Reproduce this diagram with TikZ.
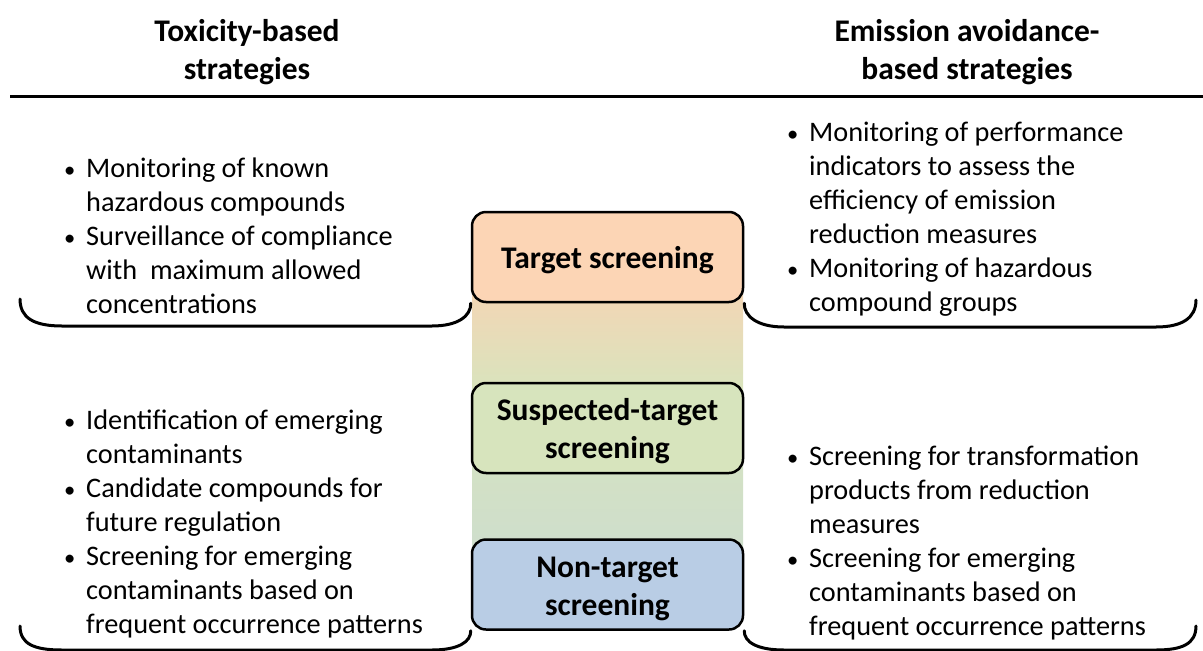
\documentclass[tikz,border=0pt]{standalone}
\usepackage{fontspec}
\setmainfont{Carlito}
\newcommand\bulitem{\makebox[24pt][l]{\hspace*{2pt}\scalebox{0.8}{•}}}
\newcommand\contline{\hspace*{24pt}}
\newcommand\stagelabel[1]{\raisebox{-4pt}[\height][\depth]{\begin{tabular}{@{}c@{}}#1\end{tabular}}}
\definecolor{peach}{RGB}{252,213,181}
\definecolor{sage}{RGB}{215,228,189}
\definecolor{skyblue}{RGB}{185,205,229}
\definecolor{fadetop}{RGB}{243,214,181}
\definecolor{fadetan}{RGB}{232,217,182}
\definecolor{fademid}{RGB}{216,228,189}
\definecolor{fadebot}{RGB}{206,222,204}
\begin{document}
\begin{tikzpicture}[x=1pt,y=-1pt,
  stage/.style={draw=black, line width=2.5pt, rounded corners=14pt,
    minimum width=271pt, minimum height=90pt, inner sep=0pt,
    font=\fontsize{31.5}{38}\selectfont\bfseries},
  brace/.style={draw=black, line width=3pt, line cap=round},
  bodytext/.style={anchor=base west, inner sep=0pt, font=\fontsize{28.3}{34}\selectfont},
  head/.style={align=center, inner sep=0pt, font=\fontsize{31.5}{38}\selectfont\bfseries}]
\useasboundingbox (0,0) rectangle (1203,651);
\clip (0,0) rectangle (1203,651);

% column headings and rule
\node[head] (lefthead) at (247,52) {Toxicity-based\\strategies};
\node[head] (righthead) at (967,52) {Emission avoidance-\\based strategies};
\coordinate (rulestart) at (10,96);
\coordinate (ruleend) at (1203,96);
\draw[line width=3pt] (rulestart) -- (ruleend);

% fading band behind the three screening levels
\shade[top color=fadetop, middle color=fadetan, bottom color=fademid]
  (472,292) rectangle (743,392);
\shade[top color=fademid, middle color=fademid, bottom color=fadebot]
  (472,391) rectangle (743,548);

% screening levels
\node[stage, fill=peach] (tgt) at (607.5,257) {\stagelabel{Target screening}};
\node[stage, fill=sage] (sus) at (607.5,428) {\stagelabel{Suspected-target\\screening}};
\node[stage, fill=skyblue] (nts) at (607.5,584.5) {\stagelabel{Non-target\\screening}};

% braces under the upper blocks
\draw[brace] (20,299) .. controls (20,318) and (34,326) .. (62,326) -- (432,326)
  .. controls (458,326) and (471,316) .. (tgt.south west);
\draw[brace] (tgt.south east) .. controls (744,316) and (757,327) .. (784,327) -- (1156,327)
  .. controls (1182,327) and (1196,318) .. (1196,300);

% braces under the lower blocks
\draw[brace] (20,626) .. controls (20,644) and (34,650) .. (62,650) -- (432,650)
  .. controls (458,650) and (471,642) .. (nts.south west);
\draw[brace] (nts.south east) .. controls (744,642) and (757,650) .. (784,650) -- (1156,650)
  .. controls (1182,650) and (1196,644) .. (1196,626);

% bullet lists
\node[bodytext] (tox1) at (62,177) {\begin{tabular}[t]{@{}l@{}}
\bulitem Monitoring of known\\
\contline hazardous compounds\\
\bulitem Surveillance of compliance\\
\contline with\ \ maximum allowed\\
\contline concentrations
\end{tabular}};

\node[bodytext] (emi1) at (785,141) {\begin{tabular}[t]{@{}l@{}}
\bulitem Monitoring of performance\\
\contline indicators to assess the\\
\contline efficiency of emission\\
\contline reduction measures\\
\bulitem Monitoring of hazardous\\
\contline compound groups
\end{tabular}};

\node[bodytext] (tox2) at (62,429) {\begin{tabular}[t]{@{}l@{}}
\bulitem Identification of emerging\\
\contline contaminants\\
\bulitem Candidate compounds for\\
\contline future regulation\\
\bulitem Screening for emerging\\
\contline contaminants based on\\
\contline frequent occurrence patterns
\end{tabular}};

\node[bodytext] (emi2) at (785,465) {\begin{tabular}[t]{@{}l@{}}
\bulitem Screening for transformation\\
\contline products from reduction\\
\contline measures\\
\bulitem Screening for emerging\\
\contline contaminants based on\\
\contline frequent occurrence patterns
\end{tabular}};
\end{tikzpicture}
\end{document}
